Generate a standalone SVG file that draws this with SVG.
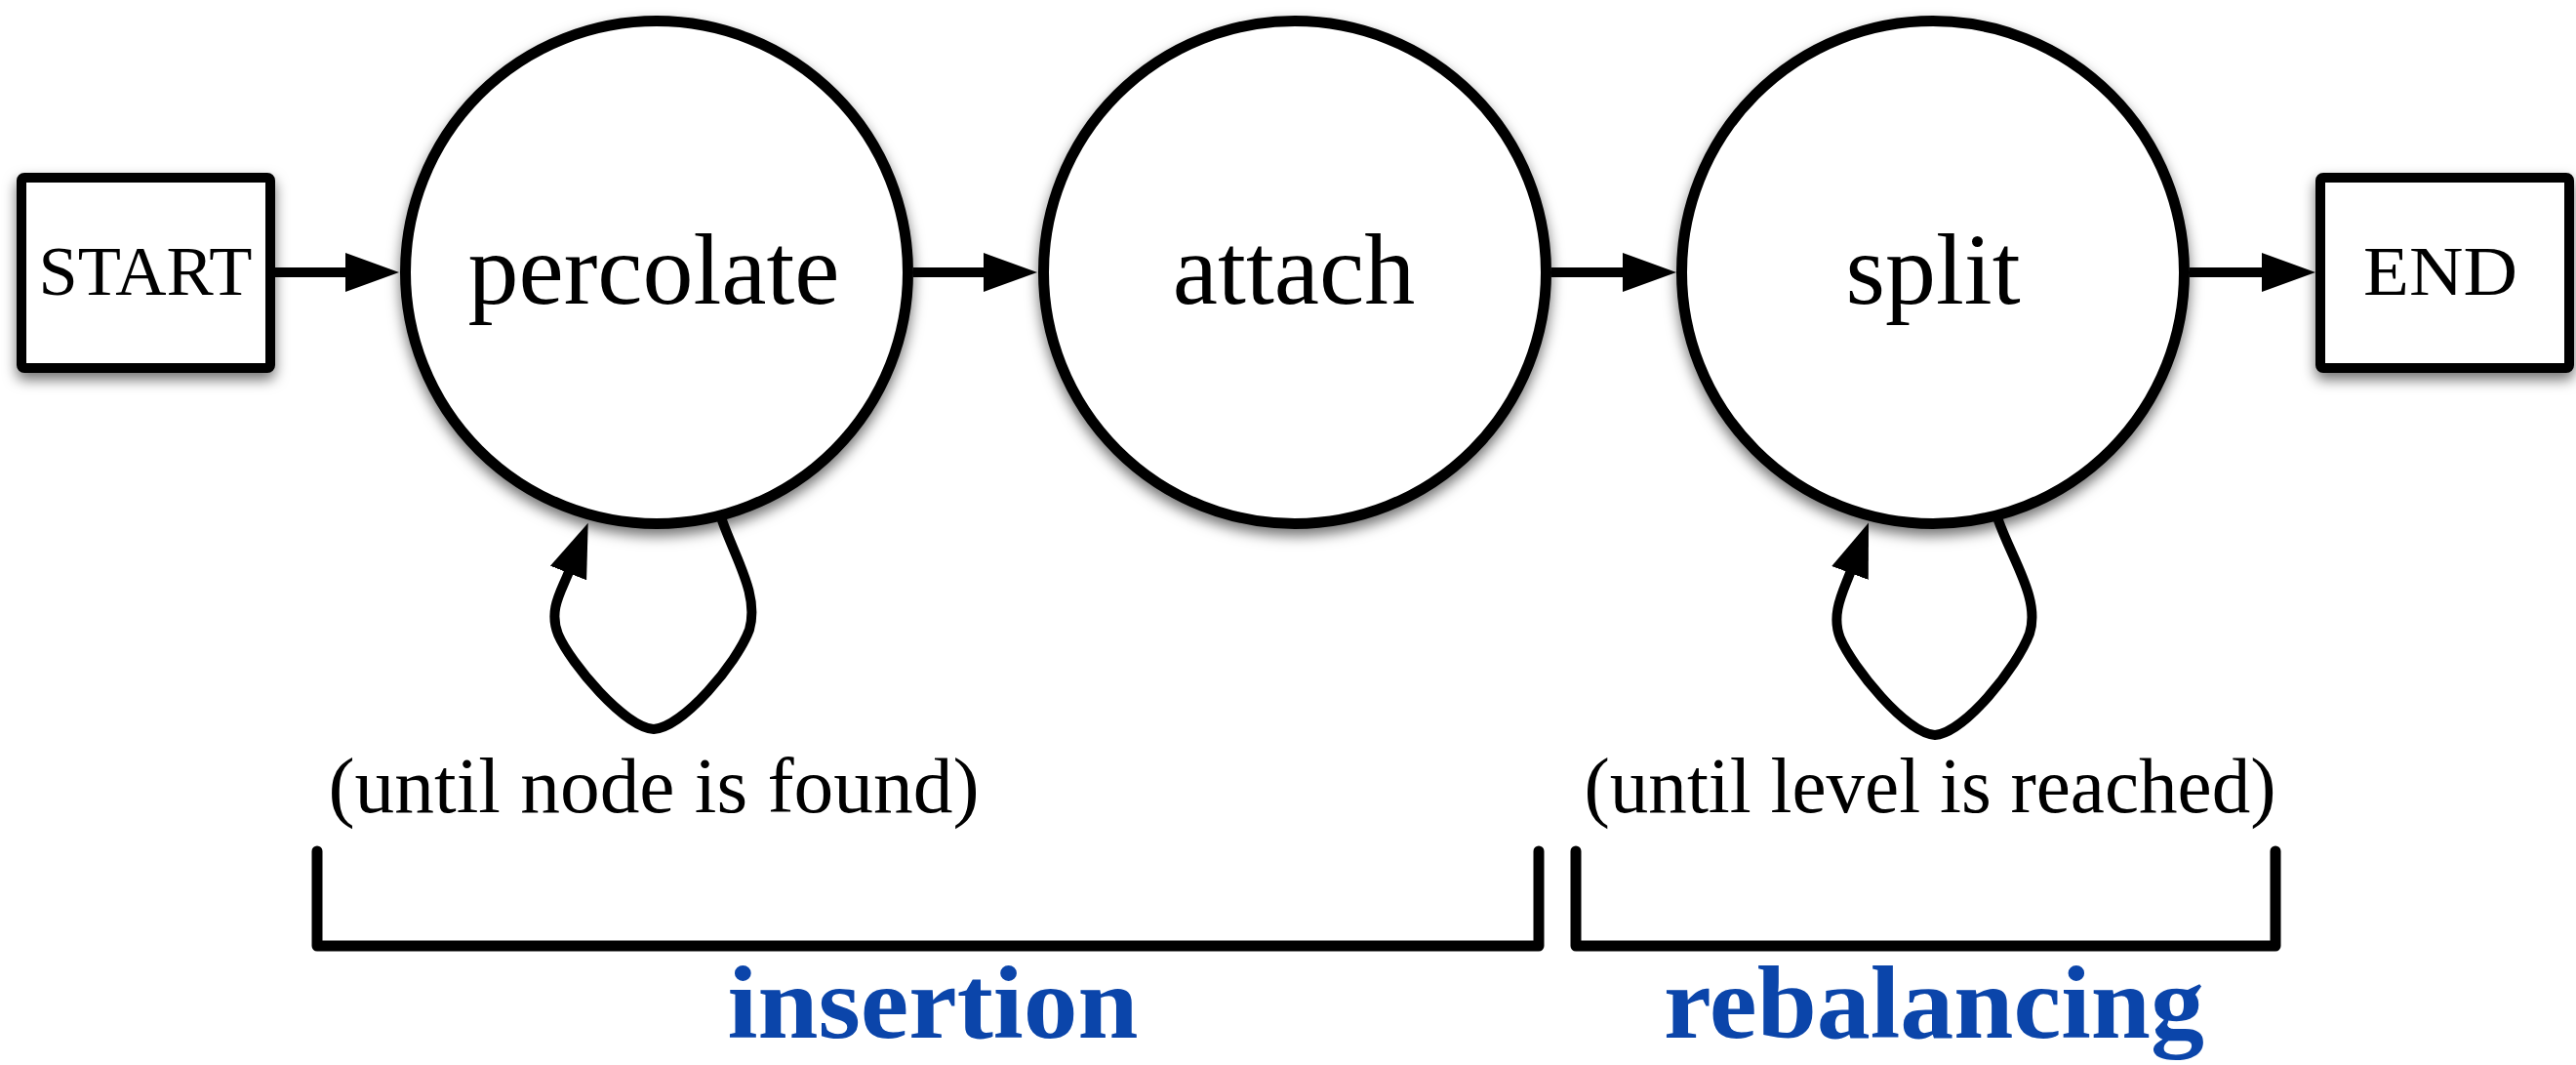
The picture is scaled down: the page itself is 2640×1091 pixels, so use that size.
<svg xmlns="http://www.w3.org/2000/svg" width="2640" height="1091" viewBox="0 0 2640 1091">
<style>
.node{fill:#fff;stroke:#000;stroke-width:11;filter:url(#sh)}
.box{fill:#fff;stroke:#000;stroke-width:10;filter:url(#sh)}
.lbl{font-family:"Liberation Serif","Times New Roman",serif;fill:#000;text-anchor:middle}
.big{font-size:104px}
.cap{font-size:72px}
.note{font-size:80px}
.sec{font-family:"Liberation Serif","Times New Roman",serif;font-weight:bold;font-size:106px;fill:#0b45aa;text-anchor:middle}
.edge{fill:none;stroke:#000;stroke-width:10;marker-end:url(#ah)}
.loop{fill:none;stroke:#000;stroke-width:10;stroke-linecap:round;marker-end:url(#ah)}
.brk{fill:none;stroke:#000;stroke-width:11;stroke-linecap:round;stroke-linejoin:round}
</style>
<defs>
<filter id="sh" x="-20%" y="-20%" width="140%" height="150%">
<feDropShadow dx="0" dy="7" stdDeviation="7" flood-color="#000" flood-opacity="0.55"/>
</filter>
<marker id="ah" markerUnits="userSpaceOnUse" markerWidth="56" markerHeight="42" viewBox="0 -21 56 42" refX="0" refY="0" orient="auto">
<path d="M0,-20 L55,0 L0,20 Z" fill="#000"/>
</marker>
</defs>
<rect width="2640" height="1091" fill="#fff"/>

<g id="start">
<rect class="box" x="22" y="182" width="255" height="195" rx="3"/>
<text class="lbl cap" x="149" y="302" textLength="219" lengthAdjust="spacingAndGlyphs">START</text>
</g>
<g id="percolate">
<circle class="node" cx="673" cy="279" r="257.5"/>
<text class="lbl big" x="670" y="311">percolate</text>
</g>
<g id="attach">
<circle class="node" cx="1327" cy="279" r="257.5"/>
<text class="lbl big" x="1326" y="311">attach</text>
</g>
<g id="split">
<circle class="node" cx="1981" cy="279" r="257.5"/>
<text class="lbl big" x="1981" y="311">split</text>
</g>
<g id="end">
<rect class="box" x="2378" y="182" width="255" height="195" rx="3"/>
<text class="lbl cap" x="2501" y="302" textLength="158" lengthAdjust="spacingAndGlyphs">END</text>
</g>

<g id="connectors">
<path class="edge" d="M282 279 L354 279"/>
<path class="edge" d="M936 279 L1008 279"/>
<path class="edge" d="M1590 279 L1663 279"/>
<path class="edge" d="M2244 279 L2318 279"/>
<path class="loop" transform="translate(673,279)" d="M67 254 C82 296,105 331,95 366 C82 401,27 466,-3 468 C-33 466,-88 401,-101 371 C-111 346,-98 327,-90.5 308"/>
<path class="loop" transform="translate(1981,279)" d="M67 254 C82 296,110 335,99 370 C86 405,32 472,2 474 C-28 472,-82 405,-95 375 C-105 350,-92 327,-85 308"/>
</g>

<g id="notes">
<text class="lbl note" x="670" y="832" textLength="667" lengthAdjust="spacingAndGlyphs">(until node is found)</text>
<text class="lbl note" x="1978" y="832" textLength="709" lengthAdjust="spacingAndGlyphs">(until level is reached)</text>
</g>

<g id="brackets">
<path class="brk" d="M325 872 L325 969 L1577 969 L1577 872"/>
<path class="brk" d="M1615 872 L1615 969 L2332 969 L2332 872"/>
</g>

<g id="sections">
<text class="sec" x="956" y="1063" textLength="421" lengthAdjust="spacingAndGlyphs">insertion</text>
<text class="sec" x="1982" y="1063" textLength="554" lengthAdjust="spacingAndGlyphs">rebalancing</text>
</g>
</svg>
